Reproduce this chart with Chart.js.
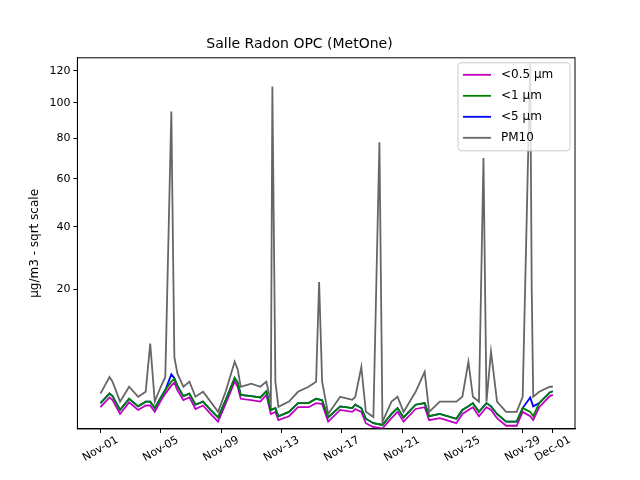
<!DOCTYPE html>
<html>
<head>
<meta charset="utf-8">
<script src="https://cdn.jsdelivr.net/npm/chart.js@4"></script>
<style>
html, body { margin: 0; background: #fff; }
#wrap { width: 640px; height: 480px; }
</style>
</head>
<body>
<div id="wrap"><canvas id="c"></canvas></div>
<script>
// days since Nov-01 00:00
const pmDays = [0,0.6,0.8,1.3,1.9,2.5,3,3.3,3.6,4,4.3,4.7,4.9,5.1,5.5,5.9,6.3,6.8,7.3,7.8,8.3,8.9,9.1,9.3,10,10.6,11,11.3,11.4,11.6,11.8,12.5,13.1,13.8,14.3,14.5,14.7,15.1,15.9,16.7,16.9,17.3,17.6,18.1,18.5,18.7,19.3,19.7,20.1,20.9,21.5,21.8,22.5,23.6,24,24.4,24.7,25.1,25.4,25.6,25.9,26.3,26.9,27.6,28,28.5,28.6,28.7,29.1,29.8,30];
const pm10 = [1.9,3.5,3.0,1.3,2.5,1.65,2.05,8.2,1.3,2.5,3.5,95,6.1,3.9,2.5,3.0,1.65,2.05,1.3,0.7,2.05,5.4,4.4,2.5,2.8,2.5,3.0,1.3,110,3.0,0.97,1.3,2.05,2.5,3.0,22,3.0,0.6,1.65,1.43,1.65,4.7,0.7,0.47,78,0.29,1.3,1.65,0.7,2.05,4.1,0.7,1.3,1.3,1.65,5.4,1.65,1.3,70,1.3,6.9,1.3,0.7,0.7,1.65,125,20,1.65,2.05,2.5,2.5];

const fineDays = [0,0.6,0.8,1.3,1.9,2.5,3,3.3,3.6,4,4.3,4.7,4.9,5.1,5.5,5.9,6.3,6.8,7.3,7.8,8.3,8.9,9.1,9.3,10,10.6,11,11.3,11.6,11.8,12.5,13.1,13.8,14.3,14.7,15.1,15.9,16.7,16.9,17.3,17.6,18.1,18.7,19.3,19.7,20.1,20.9,21.5,21.8,22.5,23.6,24,24.4,24.7,25.1,25.6,25.9,26.3,26.9,27.6,28,28.5,28.7,29.1,29.8,30];
const pm5 = [1.2,1.9,1.7,0.8,1.5,1.0,1.3,1.3,0.9,1.6,2.2,3.8,3.4,2.6,1.7,1.9,1.1,1.3,0.8,0.45,1.4,3.4,2.9,1.8,1.7,1.6,2.1,0.8,0.9,0.5,0.7,1.2,1.2,1.5,1.4,0.45,1.0,0.9,1.1,0.9,0.4,0.25,0.2,0.6,0.9,0.45,1.1,1.2,0.5,0.6,0.4,0.8,1.0,1.2,0.7,1.2,1.0,0.6,0.3,0.3,0.9,1.6,1.0,1.2,2.0,2.1];
const pm1 = [1.2,1.9,1.7,0.8,1.5,1.0,1.3,1.3,0.9,1.6,2.2,3.0,3.3,2.6,1.7,1.9,1.1,1.3,0.8,0.45,1.4,3.4,2.9,1.8,1.7,1.6,2.1,0.8,0.9,0.5,0.7,1.2,1.2,1.5,1.4,0.45,1.0,0.9,1.1,0.9,0.4,0.25,0.2,0.6,0.9,0.45,1.1,1.2,0.5,0.6,0.4,0.8,1.0,1.2,0.7,1.2,1.0,0.6,0.3,0.3,0.9,0.7,0.5,1.2,2.0,2.1];
const pm05 = [0.95,1.6,1.4,0.6,1.25,0.8,1.05,1.05,0.7,1.35,1.9,2.6,2.9,2.2,1.4,1.6,0.85,1.05,0.6,0.3,1.15,3.0,2.5,1.5,1.4,1.3,1.8,0.6,0.7,0.35,0.5,0.95,0.95,1.2,1.15,0.3,0.8,0.7,0.85,0.7,0.25,0.15,0.12,0.42,0.7,0.3,0.85,0.95,0.35,0.42,0.25,0.6,0.8,0.95,0.5,0.95,0.8,0.42,0.18,0.18,0.7,0.5,0.35,0.95,1.7,1.8];

const yTicks = [20,40,60,80,100,120];
const xTickDays = [0,4,8,12,16,20,24,28,30];
const xTickLabels = ['Nov-01','Nov-05','Nov-09','Nov-13','Nov-17','Nov-21','Nov-25','Nov-29','Dec-01'];

const pts = (xs, ys) => xs.map((d, i) => ({ x: d, y: Math.sqrt(ys[i]) }));
const font = { family: 'DejaVu Sans', size: 11 };

// frame, centred rotated date labels, legend box
const decorPlugin = {
  id: 'decor',
  afterDraw(chart) {
    const ctx = chart.ctx, a = chart.chartArea;
    ctx.save();
    ctx.strokeStyle = '#000'; ctx.lineWidth = 1;
    ctx.strokeRect(a.left, a.top, a.right - a.left, a.bottom - a.top);

    const xs = chart.scales.x;
    ctx.font = '11px DejaVu Sans';
    ctx.fillStyle = '#000';
    ctx.textAlign = 'center'; ctx.textBaseline = 'middle';
    xTickDays.forEach((d, i) => {
      ctx.save();
      ctx.translate(xs.getPixelForValue(d), a.bottom + 20);
      ctx.rotate(-Math.PI / 6);
      ctx.fillText(xTickLabels[i], 0, 0);
      ctx.restore();
    });

    const x0 = a.right - 117, y0 = a.top + 5, w = 112, h = 88;
    ctx.fillStyle = 'rgba(255,255,255,0.8)';
    ctx.strokeStyle = '#ccc';
    ctx.beginPath(); ctx.roundRect(x0, y0, w, h, 3); ctx.fill(); ctx.stroke();
    ctx.font = '12px DejaVu Sans';
    ctx.textAlign = 'left';
    chart.data.datasets.forEach((ds, i) => {
      const y = y0 + 12 + i * 21;
      ctx.strokeStyle = ds.borderColor; ctx.lineWidth = 1.8;
      ctx.beginPath(); ctx.moveTo(x0 + 5, y); ctx.lineTo(x0 + 33, y); ctx.stroke();
      ctx.fillStyle = '#000';
      ctx.fillText(ds.label, x0 + 43, y);
    });
    ctx.restore();
  }
};

new Chart(document.getElementById('c'), {
  type: 'line',
  data: {
    datasets: [
      { label: '<0.5 µm', data: pts(fineDays, pm05), borderColor: '#c000c0', order: 3 },
      { label: '<1 µm', data: pts(fineDays, pm1), borderColor: '#008000', order: 1 },
      { label: '<5 µm', data: pts(fineDays, pm5), borderColor: '#0000ff', order: 2 },
      { label: 'PM10', data: pts(pmDays, pm10), borderColor: '#666666', order: 0 }
    ].map(d => Object.assign(d, { borderWidth: 1.8, pointRadius: 0, tension: 0, fill: false }))
  },
  options: {
    responsive: true,
    maintainAspectRatio: false,
    animation: false,
    layout: { padding: { left: 24, right: 65, top: 8, bottom: 10 } },
    plugins: {
      legend: { display: false },
      tooltip: { enabled: false },
      title: { display: true, text: 'Salle Radon OPC (MetOne)', color: '#000', font: { family: 'DejaVu Sans', size: 14, weight: 'normal' }, padding: { top: 28, bottom: 5 } }
    },
    scales: {
      x: {
        type: 'linear', min: -1.53, max: 31.47,
        grid: { drawOnChartArea: false, drawTicks: true, tickLength: 4, color: '#000' },
        border: { color: '#000' },
        afterBuildTicks: s => { s.ticks = xTickDays.map(v => ({ value: v })); },
        ticks: { color: 'rgba(0,0,0,0)', font, maxRotation: 30, minRotation: 30, callback: v => xTickLabels[xTickDays.indexOf(v)] }
      },
      y: {
        min: 0.33, max: 11.34,
        grid: { drawOnChartArea: false, drawTicks: true, tickLength: 4, color: '#000' },
        border: { color: '#000' },
        afterBuildTicks: s => { s.ticks = yTicks.map(v => ({ value: Math.sqrt(v) })); },
        ticks: { color: '#000', font, callback: v => String(Math.round(v * v)) },
        title: { display: true, text: 'µg/m3 - sqrt scale', color: '#000', font: { family: 'DejaVu Sans', size: 12 } }
      }
    }
  },
  plugins: [decorPlugin]
});
</script>
</body>
</html>
